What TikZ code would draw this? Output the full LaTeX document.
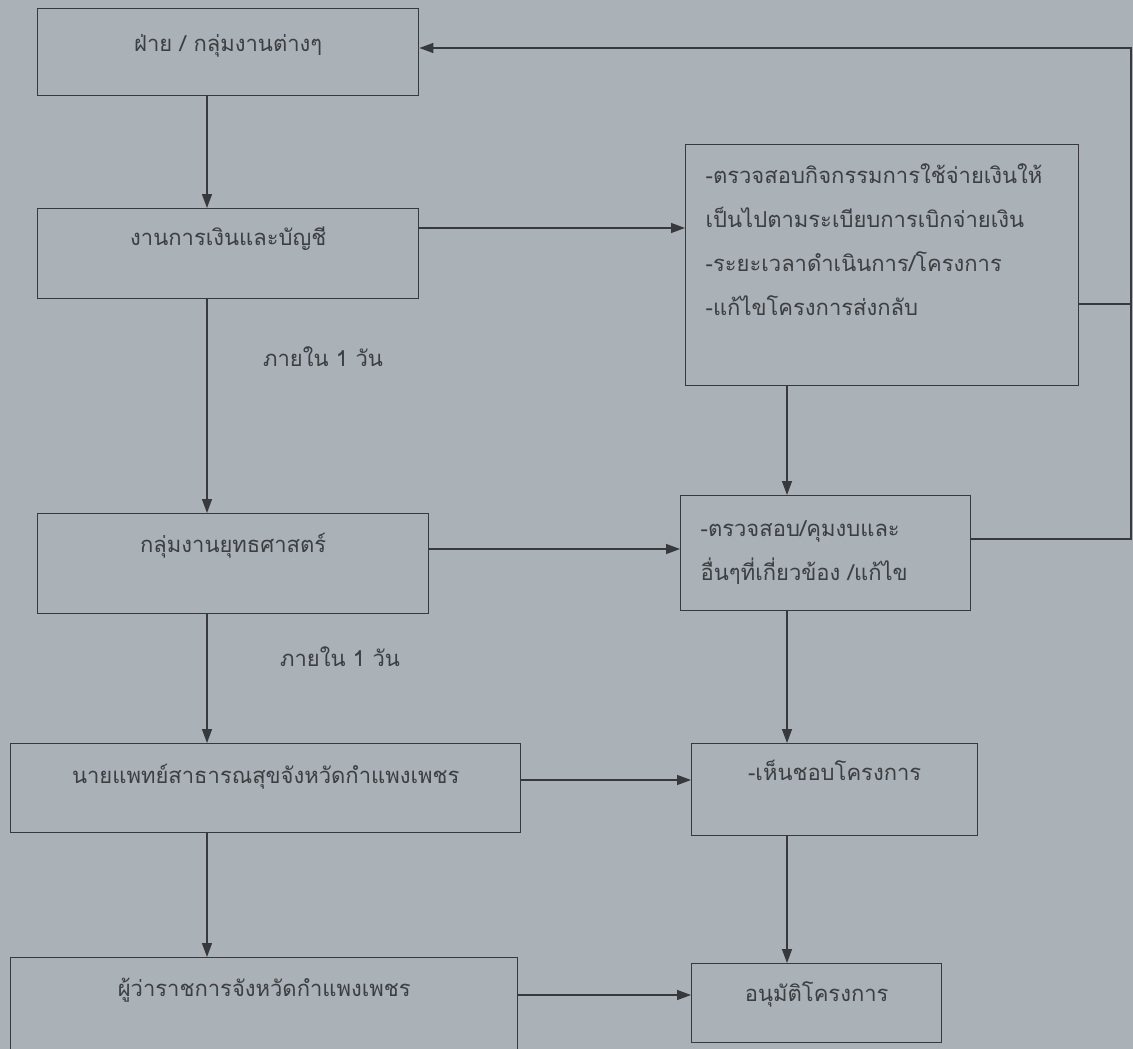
\documentclass[tikz,border=0pt]{standalone}
\usepackage{fontspec}
\usepackage{xcolor}
\usepackage{tikz}
\usetikzlibrary{calc,positioning,arrows.meta}
\newfontfamily\thaifont[Script=Thai]{Loma}
\definecolor{paper}{RGB}{170,177,183}
\definecolor{ink}{RGB}{55,57,61}
\definecolor{inktext}{RGB}{60,62,66}

\begin{document}
\begin{tikzpicture}[x=1pt, y=-1pt,
  box/.style={draw=ink, line width=1.4pt, inner ysep=0pt, inner xsep=0pt,
    anchor=north west, text=inktext, align=center,
    font=\thaifont\fontsize{22}{44}\selectfont},
  lbl/.style={text=inktext, font=\thaifont\fontsize{22}{44}\selectfont},
  arr/.style={draw=ink, line width=1.4pt, -{Triangle[length=14pt,width=10pt]}},
  link/.style={draw=ink, line width=1.4pt},
]
  \path[use as bounding box, fill=paper] (0,0) rectangle (1133,1049);
  \clip (0,0) rectangle (1133,1049);

  % Left column
  \node[box, minimum width=381pt, text height=43pt, text depth=44pt] (units) at (37,8)
    {ฝ่าย / กลุ่มงานต่างๆ};
  \node[box, minimum width=381pt, text height=37pt, text depth=53pt] (finance) at (37,208)
    {งานการเงินและบัญชี};
  \node[box, minimum width=391pt, text height=39pt, text depth=61pt] (strategy) at (37,513)
    {กลุ่มงานยุทธศาสตร์};
  \node[box, minimum width=510pt, text height=40pt, text depth=49pt] (doctor) at (10,743)
    {นายแพทย์สาธารณสุขจังหวัดกำแพงเพชร};
  \node[box, minimum width=507pt, text height=39pt, text depth=64pt] (governor) at (10,957)
    {ผู้ว่าราชการจังหวัดกำแพงเพชร};

  % Right column
  \node[box, text width=353pt, inner xsep=20pt, align=left,
    text height=39pt, text depth=202pt] (audit) at (685,144)
    {-ตรวจสอบกิจกรรมการใช้จ่ายเงินให้\\
     เป็นไปตามระเบียบการเบิกจ่ายเงิน\\
     -ระยะเวลาดำเนินการ/โครงการ\\
     -แก้ไขโครงการส่งกลับ};
  \node[box, text width=250pt, inner xsep=20pt, align=left,
    text height=41pt, text depth=74pt] (budget) at (680,495)
    {-ตรวจสอบ/คุมงบและ\\
     อื่นๆที่เกี่ยวข้อง /แก้ไข};
  \node[box, minimum width=286pt, text height=37pt, text depth=55pt] (agree) at (691,743)
    {-เห็นชอบโครงการ};
  \node[box, minimum width=250pt, text height=38pt, text depth=41pt] (approve) at (691,963)
    {อนุมัติโครงการ};

  % Lanes
  \coordinate (colL) at (207,0);
  \coordinate (colR) at (787,0);
  \coordinate (edge) at (1131,0);
  \coordinate (rowTop) at (0,48);
  \coordinate (rowFin) at (0,228);
  \coordinate (rowAudit) at (0,304);
  \coordinate (rowBud) at (0,539);
  \coordinate (rowStr) at (0,549);
  \coordinate (rowDoc) at (0,780);
  \coordinate (rowGov) at (0,995);

  % Arrows down the left column
  \draw[arr] (units.south -| colL) -- (finance.north -| colL);
  \draw[arr] (finance.south -| colL) -- (strategy.north -| colL);
  \draw[arr] (strategy.south -| colL) -- (doctor.north -| colL);
  \draw[arr] (doctor.south -| colL) -- (governor.north -| colL);

  % Arrows down the right column
  \draw[arr] (audit.south -| colR) -- (budget.north -| colR);
  \draw[arr] (budget.south -| colR) -- (agree.north -| colR);
  \draw[arr] (agree.south -| colR) -- (approve.north -| colR);

  % Arrows across
  \draw[arr] (finance.east |- rowFin) -- (audit.west |- rowFin);
  \draw[arr] (strategy.east |- rowStr) -- (budget.west |- rowStr);
  \draw[arr] (doctor.east |- rowDoc) -- (agree.west |- rowDoc);
  \draw[arr] (governor.east |- rowGov) -- (approve.west |- rowGov);

  % Send back
  \draw[link] (audit.east |- rowAudit) -- (edge |- rowAudit);
  \draw[arr] (budget.east |- rowBud) -- (edge |- rowBud) -- (edge |- rowTop)
    -- (units.east |- rowTop);

  % Time notes
  \node[lbl] (day1) at (323,357) {ภายใน 1 วัน};
  \node[lbl] (day2) at (340,657) {ภายใน 1 วัน};
\end{tikzpicture}
\end{document}
